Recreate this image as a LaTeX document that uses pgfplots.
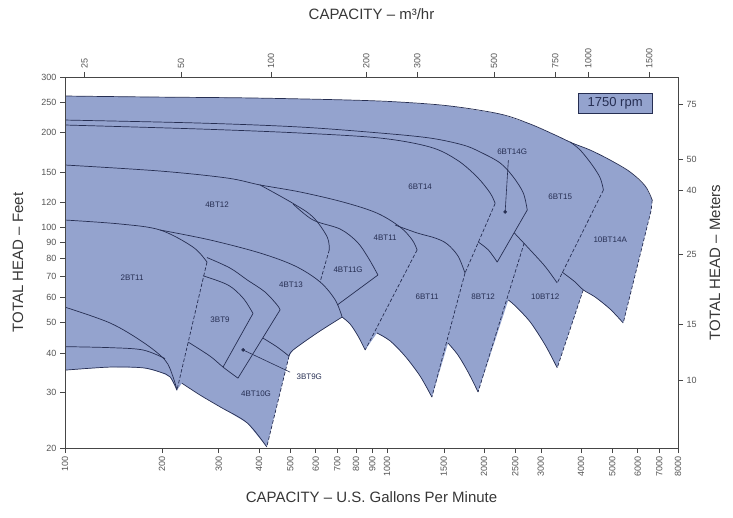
\documentclass[border=0pt]{standalone}
\usepackage{fontspec}
\setmainfont{Liberation Sans}
\usepackage{pgfplots}
\pgfplotsset{compat=1.18}
\definecolor{envfill}{RGB}{148,163,206}
\definecolor{curvec}{RGB}{38,46,82}
\definecolor{axisc}{RGB}{70,70,70}
\definecolor{txtc}{RGB}{55,55,55}
\definecolor{tickc}{RGB}{85,85,85}
\tikzset{crv/.style={draw=curvec, line width=0.7pt},
         scrv/.style={draw=curvec, line width=0.7pt, smooth, tension=0.55},
         dsh/.style={draw=curvec, line width=0.7pt, dash pattern=on 3.5pt off 2pt},
         lbl/.style={font=\fontsize{8}{9}\selectfont, text=curvec}}
\begin{document}
\begin{tikzpicture}
\useasboundingbox (-65pt,-70pt) rectangle (668pt,448pt);
\begin{axis}[
  at={(0,0)}, anchor=south west,
  scale only axis, width=613pt, height=371pt,
  xmode=log, ymode=log,
  xmin=100, xmax=8000, ymin=20, ymax=300,
  tick pos=left, tick align=outside, major tick length=5pt,
  xminorticks=false, yminorticks=false,
  xtick={100,200,300,400,500,600,700,800,900,1000,1500,2000,2500,3000,4000,5000,6000,7000,8000},
  xticklabels={100,200,300,400,500,600,700,800,900,1000,1500,2000,2500,3000,4000,5000,6000,7000,8000},
  ytick={20,30,40,50,60,70,80,90,100,120,150,200,250,300},
  yticklabels={20,30,40,50,60,70,80,90,100,120,150,200,250,300},
  xticklabel style={rotate=90, anchor=east, font=\fontsize{9}{10}\selectfont, text=tickc},
  yticklabel style={font=\fontsize{9}{10}\selectfont, text=tickc},
  axis line style={axisc, line width=0.8pt},
  every tick/.style={axisc, line width=0.6pt},
  xlabel={CAPACITY -- U.S. Gallons Per Minute},
  ylabel={TOTAL HEAD -- Feet},
  every axis x label/.style={at={([yshift=-49pt]axis description cs:0.5,0)}, anchor=center, font=\fontsize{15}{16}\selectfont, text=txtc},
  every axis y label/.style={at={([xshift=-47pt]axis description cs:0,0.5)}, rotate=90, anchor=center, font=\fontsize{15}{16}\selectfont, text=txtc},
]
% envelope fill
\addplot[fill=envfill, draw=none] coordinates {
(100,261.1)(183.7,259.2)(375.4,257.4)(767.6,253.5)(1097.5,249.8)(1569.5,242.7)(2243.9,228.9)(2780.5,212.8)(3325,196.4)(3755,185.3)(4270,176.0)(4926,163.6)(5685,149.9)(6327,135.4)(6653,122.2)(6606,113.6)(5407,49.8)(4926,55.1)(4423,60.2)(4063,63.4)(3373,35.9)(3096,42.4)(2780,50.2)(2500,56.4)(2379,58.9)(1916,30.1)(1784,34.8)(1660,39.4)(1546,43.0)(1377,29.0)(1266,33.8)(1137,39.1)(1022,43.7)(930,46.3)(855,40.9)(812,45.3)(768,49.4)(725,52.0)(606,46.3)(511,40.9)(496,39.1)(423,20.15)(368,24.0)(303,27.0)(263,29.4)(230.5,32.1)(222.6,30.5)(211.9,33.6)(197.3,34.8)(174.6,35.9)(138,36.1)(100,35.3)
} -- cycle;
% outline pieces
\addplot[scrv] coordinates {(100,261.1)(183.7,259.2)(375.4,257.4)(767.6,253.5)(1097.5,249.8)(1569.5,242.7)(2243.9,228.9)(2780.5,212.8)(3325,196.4)(3755,185.3)(4270,176.0)(4926,163.6)(5685,149.9)(6327,135.4)(6653,122.2)};
\addplot[dsh] coordinates {(6653,122.2)(6606,113.6)(5407,49.8)};
\addplot[scrv] coordinates {(5407,49.8)(4926,55.1)(4423,60.2)(4063,63.4)(3833,67.2)(3496,72.2)};
\addplot[dsh] coordinates {(4063,63.4)(3373,35.9)};
\addplot[scrv] coordinates {(3373,35.9)(3096,42.4)(2780,50.2)(2500,56.4)(2379,58.9)};
\addplot[dsh] coordinates {(2664,89.3)(1916,30.1)};
\addplot[scrv] coordinates {(1916,30.1)(1784,34.8)(1660,39.4)(1546,43.0)};
\addplot[dsh] coordinates {(1745,71.7)(1377,29.0)};
\addplot[scrv] coordinates {(1377,29.0)(1266,33.8)(1137,39.1)(1022,43.7)(930,46.3)};
\addplot[dsh] coordinates {(1239,84.9)(855,40.9)};
\addplot[scrv] coordinates {(855,40.9)(812,45.3)(768,49.4)(725,52.0)};
\addplot[scrv] coordinates {(725,52.0)(606,46.3)(511,40.9)(496,39.1)};
\addplot[dsh] coordinates {(496,39.1)(423,20.15)};
\addplot[scrv] coordinates {(411.8,44.6)(455.6,41.8)(496,39.1)};
\addplot[scrv] coordinates {(423,20.15)(368,24.0)(303,27.0)(263,29.4)(230.5,32.1)};
\addplot[dsh] coordinates {(275.9,77.7)(222.6,30.5)};
\addplot[scrv] coordinates {(222.6,30.5)(211.9,33.6)(197.3,34.8)(174.6,35.9)(138,36.1)(100,35.3)};
% interior curves
\addplot[scrv] coordinates {(100,219.1)(262.6,214.3)(536.7,208.2)(951.2,199.3)(1360,192.1)(1722,182.6)(1945,173.5)(2244,160.1)(2464,144.6)(2647,128.6)(2723,113.6)};
\addplot[scrv] coordinates {(100,211.3)(262.6,205.2)(536.7,199.3)(951.2,192.1)(1360,179.9)(1650,163.6)(1903,144.6)(2089,128.6)(2165,119.2)};
\addplot[crv] coordinates {(2723,113.6)(2197,77.7)};
\addplot[scrv] coordinates {(1916,90.0)(2061,84.9)(2197,77.7)};
\addplot[dsh] coordinates {(2165,119.2)(1745,71.7)};
\addplot[scrv] coordinates {(1059,101.8)(1239,96.1)(1410,92.6)(1535,88.7)(1660,81.2)(1745,71.7)};
\addplot[scrv] coordinates {(3701,186.6)(3976,176.0)(4331,157.8)(4587,143.5)(4694,131.5)};
\addplot[dsh] coordinates {(4694,131.5)(3373,66.7)};
\addplot[scrv] coordinates {(2482,96.1)(2780,84.9)(3096,75.2)(3373,66.7)};
\addplot[scrv] coordinates {(100,157.8)(197.3,151.0)(318.5,143.5)(403.2,136.4)(536.7,129.6)(730.2,120.4)(930,111.1)(1097.5,100.3)(1197,91.3)(1239,84.9)};
\addplot[scrv] coordinates {(403.2,136.4)(510.6,119.2)(589,107.9)(651.7,93.3)(661.3,84.9)};
\addplot[dsh] coordinates {(661.3,84.9)(619.3,67.2)};
\addplot[scrv] coordinates {(510.6,118.7)(589,105.6)(714.5,98.9)(806.9,90.0)(873,80.3)(936.6,70.7)};
\addplot[crv] coordinates {(936.6,70.7)(700.3,56.8)};
\addplot[scrv] coordinates {(100,105.6)(148.2,102.6)(197.3,98.2)(249.6,86.7)(275.9,77.7)};
\addplot[scrv] coordinates {(197.3,98.2)(282,91.3)(403.2,83.0)(518,75.5)(619.3,67.2)(690.3,58.9)(725,52.0)};
\addplot[scrv] coordinates {(275.9,80.3)(325.3,74.4)(367.9,68.2)(417.4,62.5)(455.6,56.8)(465.2,54.8)};
\addplot[crv] coordinates {(465.2,54.8)(344.3,33.3)};
\addplot[scrv] coordinates {(241.4,43.3)(282,39.1)(309.5,36.1)(344.3,33.3)};
\addplot[scrv] coordinates {(268,70.3)(320.8,65.7)(357.3,59.7)(383.4,53.4)};
\addplot[crv] coordinates {(383.4,53.4)(309.5,36.1)};
\addplot[scrv] coordinates {(100,55.9)(138,49.8)(174.6,43.3)(204.4,38.0)(216.5,33.6)(222.6,30.5)};
\addplot[scrv] coordinates {(100,41.9)(138,41.6)(174.6,40.9)(204.4,38.4)};
% leaders and dots
\addplot[draw=curvec, line width=0.6pt] coordinates {(2325,112.0)(2379,163.6)};
\addplot[only marks, mark=*, mark size=1.6pt, curvec] coordinates {(2325,112.0)};
\addplot[draw=curvec, line width=0.6pt] coordinates {(357.3,40.9)(499.7,34.8)};
\addplot[only marks, mark=*, mark size=1.6pt, curvec] coordinates {(357.3,40.9)};
% labels
\node[lbl] at (axis cs:296.5,117.8) {4BT12};
\node[lbl] at (axis cs:161.5,69.2) {2BT11};
\node[lbl] at (axis cs:302.9,50.9) {3BT9};
\node[lbl] at (axis cs:503,65.7) {4BT13};
\node[lbl] at (axis cs:756.8,73.3) {4BT11G};
\node[lbl] at (axis cs:985.8,92.6) {4BT11};
\node[lbl] at (axis cs:391.9,29.7) {4BT10G};
\node[lbl, anchor=west] at (axis cs:510.6,33.6) {3BT9G};
\node[lbl] at (axis cs:1266,134.4) {6BT14};
\node[lbl] at (axis cs:2445,173.5) {6BT14G};
\node[lbl] at (axis cs:3446,124.9) {6BT15};
\node[lbl] at (axis cs:4926,91.3) {10BT14A};
\node[lbl] at (axis cs:1331,60.2) {6BT11};
\node[lbl] at (axis cs:1987,60.2) {8BT12};
\node[lbl] at (axis cs:3096,60.2) {10BT12};
\node[draw=curvec, fill=envfill, line width=0.7pt, minimum width=74pt, minimum height=20pt, inner sep=0pt, font=\fontsize{13}{14}\selectfont, text=curvec] at (axis cs:5105,248) {1750 rpm};
\end{axis}
\begin{axis}[
  at={(0,0)}, anchor=south west,
  scale only axis, width=613pt, height=371pt,
  xmode=log, ymode=log,
  xmin=100, xmax=8000, ymin=20, ymax=300,
  tick pos=right, tick align=outside, major tick length=5pt,
  xminorticks=false, yminorticks=false,
  xtick={115,229,436,861,1240,2148,3326,4210,6513},
  xticklabels={25,50,100,200,300,500,750,1000,1500},
  ytick={32.8,49.2,82.0,131.2,164.0,246.1},
  yticklabels={10,15,25,40,50,75},
  xticklabel style={rotate=90, anchor=west, font=\fontsize{9}{10}\selectfont, text=tickc},
  yticklabel style={font=\fontsize{9}{10}\selectfont, text=tickc},
  axis line style={axisc, line width=0.8pt},
  every tick/.style={axisc, line width=0.6pt},
  xlabel={CAPACITY -- m³/hr},
  ylabel={TOTAL HEAD -- Meters},
  every axis x label/.style={at={([yshift=63pt]axis description cs:0.5,1)}, anchor=center, font=\fontsize{15}{16}\selectfont, text=txtc},
  every axis y label/.style={at={([xshift=37pt]axis description cs:1,0.5)}, rotate=90, anchor=center, font=\fontsize{15}{16}\selectfont, text=txtc},
]
\addplot[draw=none] coordinates {(100,20)(8000,300)};
\end{axis}
\end{tikzpicture}
\end{document}
